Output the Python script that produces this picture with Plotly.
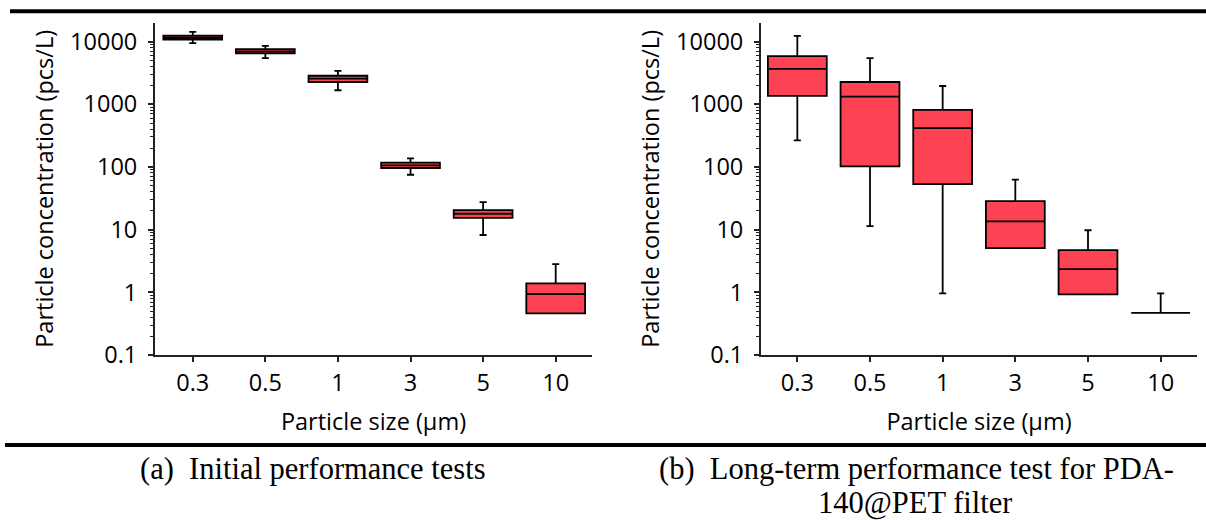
import plotly.graph_objects as go

# Particle size bins (µm)
sizes = ["0.3", "0.5", "1", "3", "5", "10"]

# (a) Initial performance tests: box statistics (pcs/L)
init_lower = [9400, 5430, 1670, 75, 8.2, 0.46]
init_q1 = [10770, 6460, 2260, 96, 15.4, 0.46]
init_median = [11560, 6960, 2550, 106, 17.9, 0.94]
init_q3 = [12450, 7550, 2845, 117, 20.4, 1.39]
init_upper = [14200, 8510, 3410, 137, 27.5, 2.81]

# (b) Long-term performance test: box statistics (pcs/L)
long_lower = [264, 11.4, 0.96, 5.05, 0.93, 0.47]
long_q1 = [1355, 102, 53, 5.05, 0.93, 0.47]
long_median = [3670, 1320, 416, 13.5, 2.34, 0.47]
long_q3 = [5850, 2260, 813, 28.4, 4.69, 0.47]
long_upper = [12270, 5430, 1950, 62.8, 9.77, 0.96]

y_tickvals = [0.1, 1, 10, 100, 1000, 10000]
y_ticktext = ["0.1", "1", "10", "100", "1000", "10000"]

W, H = 1206, 520
FILL = "#FD4253"
AXIS_COLOR = "#222222"
SANS = "Open Sans"
SERIF = "Liberation Serif"
LABEL_SIZE = 23.5

fig = go.Figure()


def add_boxes(lower, q1, med, q3, upper, xa, ya):
    fig.add_trace(go.Box(
        x=sizes, lowerfence=lower, q1=q1, median=med, q3=q3, upperfence=upper,
        xaxis=xa, yaxis=ya, width=0.81, whiskerwidth=0.12,
        fillcolor=FILL, line=dict(color="black", width=1.8),
        boxpoints=False, showlegend=False, hoverinfo="skip",
    ))


add_boxes(init_lower, init_q1, init_median, init_q3, init_upper, "x", "y")
add_boxes(long_lower, long_q1, long_median, long_q3, long_upper, "x2", "y2")

ydom = [1 - 355 / H, 1 - 22.7 / H]


def xaxis_cfg(x0, x1, rng, anchor):
    return dict(
        domain=[x0 / W, x1 / W], type="category", range=rng, anchor=anchor,
        automargin=False,
        showline=True, linecolor=AXIS_COLOR, linewidth=2,
        ticks="outside", ticklen=5, tickwidth=1.5, tickcolor=AXIS_COLOR,
        ticklabelstandoff=1,
        tickfont=dict(family=SANS, size=LABEL_SIZE, color="black"),
        title=dict(text="Particle size (\u03bcm)", standoff=16,
                   font=dict(family=SANS, size=LABEL_SIZE, color="black")),
        showgrid=False, zeroline=False, fixedrange=True,
    )


def yaxis_cfg(anchor):
    return dict(
        domain=ydom, type="log", range=[-1, 4.3], anchor=anchor,
        automargin=False,
        tickvals=y_tickvals, ticktext=y_ticktext,
        showline=True, linecolor=AXIS_COLOR, linewidth=2,
        ticks="outside", ticklen=5, tickwidth=1.5, tickcolor=AXIS_COLOR,
        minor=dict(ticks="outside", ticklen=3, tickwidth=1, tickcolor=AXIS_COLOR,
                   dtick="D1", showgrid=False),
        ticklabelstandoff=6,
        tickfont=dict(family=SANS, size=LABEL_SIZE, color="black"),
        title=dict(text="Particle concentration (pcs/L)", standoff=10,
                   font=dict(family=SANS, size=LABEL_SIZE, color="black")),
        showgrid=False, zeroline=False, fixedrange=True,
    )


fig.update_layout(
    template="none",
    width=W, height=H,
    margin=dict(l=0, r=0, t=0, b=0, pad=0),
    paper_bgcolor="white", plot_bgcolor="white",
    xaxis=xaxis_cfg(155, 592, [-0.52, 5.5], "y"),
    yaxis=yaxis_cfg("x"),
    xaxis2=xaxis_cfg(761, 1197, [-0.5, 5.5], "y2"),
    yaxis2=yaxis_cfg("x2"),
)

# Horizontal rules above the panels and above the captions
fig.add_shape(type="line", xref="paper", yref="paper",
              x0=10 / W, x1=1, y0=1 - 11.3 / H, y1=1 - 11.3 / H,
              line=dict(color="black", width=4))
fig.add_shape(type="line", xref="paper", yref="paper",
              x0=5 / W, x1=1, y0=1 - 445 / H, y1=1 - 445 / H,
              line=dict(color="black", width=4))

# Panel captions (fixed-height text boxes so the two caption lines stack tightly)
caption_font = dict(family=SERIF, size=30.5, color="black")
captions = [
    ("(a)  Initial performance tests", 313, 469),
    ("(b)  Long-term performance test for PDA-", 916, 469),
    ("140@PET filter", 915, 503),
]
for text, cx, cy in captions:
    fig.add_annotation(text=text, xref="paper", yref="paper",
                       x=cx / W, y=1 - cy / H, showarrow=False, height=34,
                       xanchor="center", yanchor="middle", font=caption_font)

fig.write_html("out.html")
